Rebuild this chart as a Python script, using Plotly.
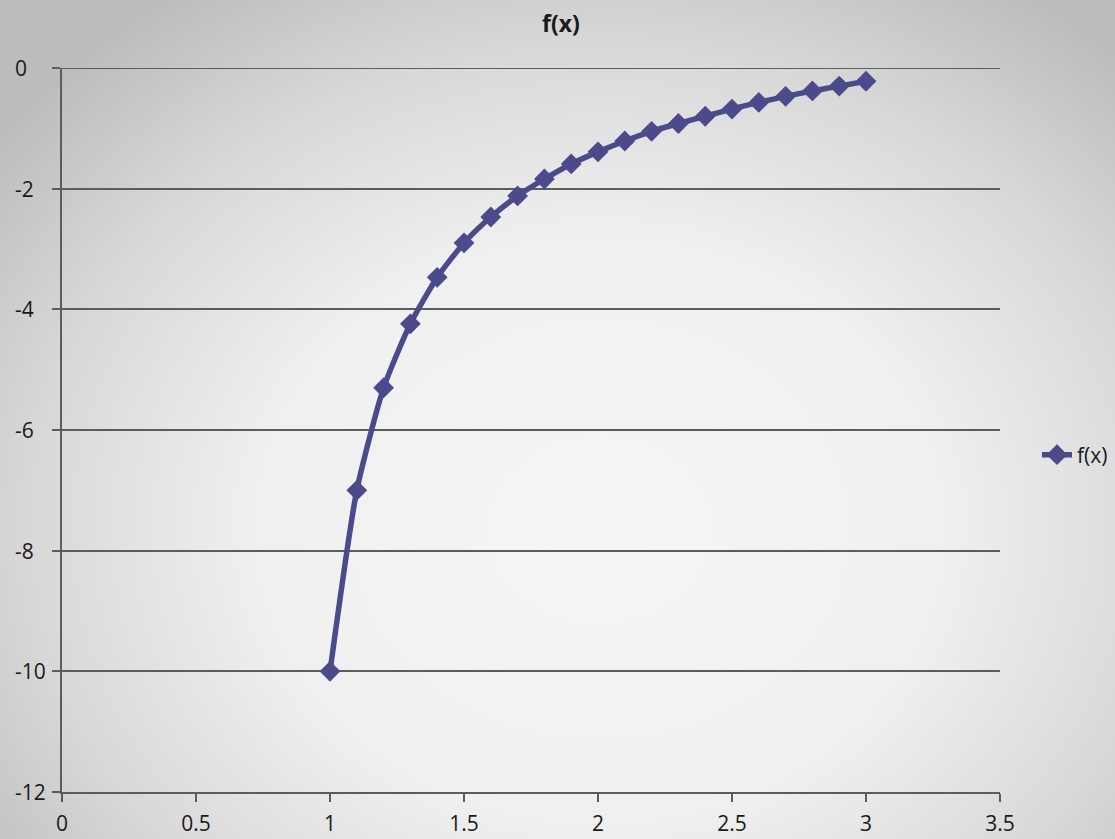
import base64
import plotly.graph_objects as go

x_vals = [1.0, 1.1, 1.2, 1.3, 1.4, 1.5, 1.6, 1.7, 1.8, 1.9, 2.0,
          2.1, 2.2, 2.3, 2.4, 2.5, 2.6, 2.7, 2.8, 2.9, 3.0]
f_vals = [-10.0, -7.0, -5.3, -4.24, -3.47, -2.9, -2.47, -2.12, -1.84, -1.59, -1.39,
          -1.21, -1.05, -0.92, -0.8, -0.68, -0.57, -0.47, -0.38, -0.3, -0.22]
x_ticks = [0, 0.5, 1, 1.5, 2, 2.5, 3, 3.5]
x_tick_labels = ["0", "0.5", "1", "1.5", "2", "2.5", "3", "3.5"]
y_ticks = [0, -2, -4, -6, -8, -10, -12]
y_tick_labels = ["0", "-2", "-4", "-6", "-8", "-10", "-12"]
series_name = "f(x)"

W, H = 1115, 839
ML, MR, MT, MB = 62, 115, 68, 47
line_color = "#4b4b8c"
grid_color = "#5c5c5c"
text_color = "#1a1a1a"
font_family = "Open Sans, Liberation Sans, sans-serif"

svg = f'''<svg xmlns="http://www.w3.org/2000/svg" width="{W}" height="{H}" viewBox="0 0 {W} {H}" preserveAspectRatio="none">
<defs><radialGradient id="g" gradientUnits="userSpaceOnUse" cx="600" cy="530" r="760" gradientTransform="translate(600 530) scale(1 0.85) translate(-600 -530)">
<stop offset="0" stop-color="#f5f5f5"/>
<stop offset="0.45" stop-color="#f0f0f0"/>
<stop offset="0.75" stop-color="#d8d8d8"/>
<stop offset="1" stop-color="#bcbcbc"/>
</radialGradient></defs>
<rect x="0" y="0" width="{W}" height="{H}" fill="url(#g)"/>
</svg>'''
bg_uri = "data:image/svg+xml;base64," + base64.b64encode(svg.encode()).decode()

pw = W - ML - MR
ph = H - MT - MB

fig = go.Figure()
fig.add_trace(go.Scatter(
    x=x_vals, y=f_vals, name=series_name, mode="lines+markers",
    line=dict(color=line_color, width=5.5, shape="spline", smoothing=0.6),
    marker=dict(symbol="diamond", size=16, color=line_color),
    showlegend=True,
))

# top gridline at y = 0 (Plotly omits gridline at the range edge)
fig.add_shape(type="line", xref="paper", yref="y", x0=-8 / pw, x1=1, y0=0, y1=0,
              line=dict(color=grid_color, width=2), layer="below")

# left-aligned y tick labels (Excel style)
for v, t in zip(y_ticks, y_tick_labels):
    fig.add_annotation(x=(13 - ML) / pw, xref="paper", y=v, yref="y", text=t,
                       showarrow=False, xanchor="left", yanchor="middle",
                       font=dict(size=21, family=font_family, color=text_color))

fig.update_layout(
    width=W, height=H,
    margin=dict(l=ML, r=MR, t=MT, b=MB, autoexpand=False),
    paper_bgcolor="#d8d8d8",
    plot_bgcolor="rgba(0,0,0,0)",
    font=dict(family=font_family, size=21, color=text_color),
    title=dict(text="<b>f(x)</b>", x=561 / W, xanchor="center",
               y=1 - 24 / H, yanchor="middle",
               font=dict(size=23, family=font_family, color=text_color)),
    legend=dict(x=(1037 - ML) / pw, xanchor="left", y=(MT + ph - 455) / ph,
                yanchor="middle", bgcolor="rgba(0,0,0,0)",
                font=dict(size=21, family=font_family, color=text_color),
                itemwidth=30),
    images=[dict(source=bg_uri, xref="paper", yref="paper",
                 x=-ML / pw, y=1 + MT / ph, sizex=W / pw, sizey=H / ph,
                 xanchor="left", yanchor="top", sizing="stretch", layer="below")],
)

fig.update_xaxes(
    range=[0, 3.5], tickmode="array", tickvals=x_ticks, ticktext=x_tick_labels,
    showgrid=False, zeroline=False, showline=True, linecolor=grid_color, linewidth=2,
    ticks="outside", ticklen=8, tickwidth=2, tickcolor=grid_color,
    ticklabelstandoff=4,
    tickfont=dict(size=21), fixedrange=True,
)
fig.update_yaxes(
    range=[-12, 0], tickmode="array", tickvals=y_ticks, ticktext=y_tick_labels,
    showticklabels=False,
    showgrid=True, gridcolor=grid_color, gridwidth=2,
    zeroline=False, showline=True, linecolor=grid_color, linewidth=2,
    ticks="outside", ticklen=8, tickwidth=2, tickcolor=grid_color,
    fixedrange=True,
)

fig.write_html("out.html")
